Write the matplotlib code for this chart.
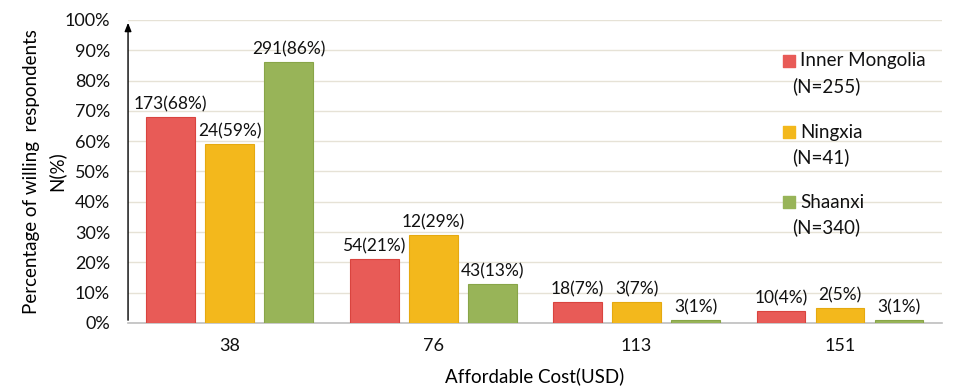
import matplotlib
matplotlib.use("Agg")
import matplotlib.pyplot as plt
import numpy as np

plt.rcParams["font.family"] = ["Lato", "DejaVu Sans"]

costs = ["38", "76", "113", "151"]
regions = ["Inner Mongolia", "Ningxia", "Shaanxi"]
region_n = [255, 41, 340]
counts = {
    "Inner Mongolia": [173, 54, 18, 10],
    "Ningxia": [24, 12, 3, 2],
    "Shaanxi": [291, 43, 3, 3],
}
percents = {
    "Inner Mongolia": [68, 21, 7, 4],
    "Ningxia": [59, 29, 7, 5],
    "Shaanxi": [86, 13, 1, 1],
}
colors = ["#E85B57", "#F3B81C", "#98B458"]
edges = ["#D9443F", "#E5A910", "#88A548"]

fig = plt.figure(figsize=(9.57, 3.89), dpi=100)
ax = fig.add_axes([0.1338, 0.1697, 0.8502, 0.7789])

x = np.arange(len(costs))
width = 0.24
offsets = [-0.29, 0, 0.29]

for i, reg in enumerate(regions):
    bars = ax.bar(x + offsets[i], percents[reg], width, color=colors[i],
                  edgecolor=edges[i], linewidth=0.8, zorder=3)
    for b, c, p in zip(bars, counts[reg], percents[reg]):
        ax.text(b.get_x() + b.get_width() / 2, p + 1.5, f"{c}({p}%)",
                ha="center", va="bottom", fontsize=12.5, color="#111111")

ax.set_xlim(-0.5, 3.5)
ax.set_ylim(0, 100)
ax.set_yticks(np.arange(0, 101, 10))
ax.set_yticklabels([f"{v}%" for v in range(0, 101, 10)])
ax.set_xticks(x)
ax.set_xticklabels(costs)
ax.tick_params(axis="both", length=0, labelsize=13, colors="#111111")
ax.tick_params(axis="y", pad=13)
ax.tick_params(axis="x", pad=11)
ax.grid(axis="y", color="#E6E2D6", linewidth=1.0, zorder=0)

for s in ["top", "right", "left"]:
    ax.spines[s].set_visible(False)
ax.spines["bottom"].set_color("#BFBFBF")
ax.spines["bottom"].set_linewidth(1.2)
ax.annotate("", xy=(0, 1.0), xytext=(0, 0), xycoords="axes fraction",
            arrowprops=dict(arrowstyle="-|>,head_length=0.5,head_width=0.2",
                            color="black", lw=1.0))

ax.set_ylabel("Percentage of willing  respondents\nN(%)", fontsize=13.5,
              linespacing=1.55, labelpad=-1)
ax.set_xlabel("Affordable Cost(USD)", fontsize=13.5, labelpad=9)

# legend
ys = [0.865, 0.630, 0.399]
for i, reg in enumerate(regions):
    ax.scatter([0.812], [ys[i]], marker="s", s=65, color=colors[i],
               transform=ax.transAxes, zorder=5, clip_on=False)
    ax.text(0.826, ys[i], reg, transform=ax.transAxes, fontsize=13.5,
            va="center", ha="left", color="#111111")
    ax.text(0.816, ys[i] - 0.083, f"(N={region_n[i]})", transform=ax.transAxes,
            fontsize=13.5, va="center", ha="left", color="#111111")

fig.savefig("out.png", dpi=100)
